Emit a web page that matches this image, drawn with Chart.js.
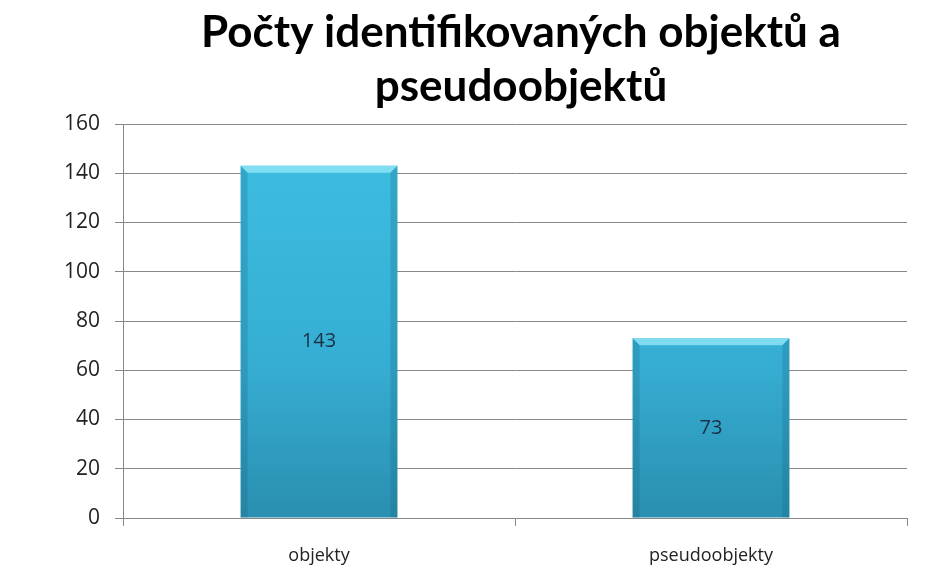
<!DOCTYPE html>
<html>
<head>
<meta charset="utf-8">
<script src="https://cdn.jsdelivr.net/npm/chart.js@4/dist/chart.umd.min.js"></script>
<style>
  html, body { margin: 0; padding: 0; background: #fff; }
  #wrap { width: 944px; height: 565px; }
</style>
</head>
<body>
<div id="wrap"><canvas id="chart"></canvas></div>
<script>
const categories = ['objekty', 'pseudoobjekty'];
const counts = [143, 73];
const titleLines = ['Počty identifikovaných objektů a', 'pseudoobjektů'];

// two-line heading centred over the plot area
const heading = {
    id: 'heading',
    afterDraw(chart) {
        const { ctx, chartArea } = chart;
        const cx = (chartArea.left + chartArea.right) / 2 + 6;
        ctx.save();
        ctx.fillStyle = '#000';
        ctx.font = 'bold 44px Lato, "Open Sans", sans-serif';
        ctx.textAlign = 'center';
        ctx.textBaseline = 'alphabetic';
        titleLines.forEach((line, i) => ctx.fillText(line, cx, 47 + i * 54));
        ctx.restore();
    }
};

// bevelled look: light top strip, darker sides, value in the middle
const barDecor = {
    id: 'barDecor',
    afterDatasetsDraw(chart) {
        const { ctx } = chart;
        const meta = chart.getDatasetMeta(0);
        meta.data.forEach((bar, i) => {
            const left = bar.x - bar.width / 2;
            const right = bar.x + bar.width / 2;
            const top = bar.y;
            const bottom = bar.base;
            const bevel = 7;
            ctx.save();
            ctx.fillStyle = 'rgba(140, 228, 246, 0.85)';
            ctx.beginPath();
            ctx.moveTo(left, top);
            ctx.lineTo(right, top);
            ctx.lineTo(right - bevel, top + bevel);
            ctx.lineTo(left + bevel, top + bevel);
            ctx.closePath();
            ctx.fill();
            ctx.fillStyle = 'rgba(20, 90, 120, 0.22)';
            ctx.beginPath();
            ctx.moveTo(left, top);
            ctx.lineTo(left + bevel, top + bevel);
            ctx.lineTo(left + bevel, bottom);
            ctx.lineTo(left, bottom);
            ctx.closePath();
            ctx.fill();
            ctx.beginPath();
            ctx.moveTo(right, top);
            ctx.lineTo(right - bevel, top + bevel);
            ctx.lineTo(right - bevel, bottom);
            ctx.lineTo(right, bottom);
            ctx.closePath();
            ctx.fill();
            ctx.fillStyle = '#1b2f45';
            ctx.font = '20px "Open Sans", sans-serif';
            ctx.textAlign = 'center';
            ctx.textBaseline = 'middle';
            ctx.fillText(String(counts[i]), bar.x, (top + bottom) / 2);
            ctx.restore();
        });
    }
};

new Chart(document.getElementById('chart'), {
    type: 'bar',
    data: {
        labels: categories,
        datasets: [{
            data: counts,
            backgroundColor: context => {
                const { chart } = context;
                const area = chart.chartArea;
                if (!area) return '#38b4d8';
                const g = chart.ctx.createLinearGradient(0, area.top, 0, area.bottom);
                g.addColorStop(0, '#3ebfe3');
                g.addColorStop(0.6, '#36aed3');
                g.addColorStop(1, '#2a8fb0');
                return g;
            },
            borderWidth: 0,
            barPercentage: 0.4,
            categoryPercentage: 1,
        }],
    },
    plugins: [barDecor, heading],
    options: {
        responsive: true,
        maintainAspectRatio: false,
        animation: false,
        layout: { padding: { left: 49, right: 37, top: 124, bottom: 0 } },
        plugins: {
            legend: { display: false },
            tooltip: { enabled: false },
            title: { display: false },
        },
        scales: {
            x: {
                // labels sit close to the bottom edge
                afterFit: scale => { scale.height = 47; },
                grid: {
                    drawOnChartArea: false,
                    color: '#888',
                    tickLength: 8,
                    offset: true,
                },
                border: { color: '#888', width: 1 },
                ticks: {
                    color: '#222',
                    font: { family: '"Open Sans", sans-serif', size: 18 },
                    padding: 19,
                },
            },
            y: {
                min: 0,
                max: 160,
                grid: {
                    color: '#888',
                    tickLength: 8,
                },
                border: { color: '#888', width: 1 },
                ticks: {
                    stepSize: 20,
                    color: '#222',
                    font: { family: '"Open Sans", sans-serif', size: 21 },
                    padding: 15,
                },
            },
        },
    },
});
</script>
</body>
</html>
